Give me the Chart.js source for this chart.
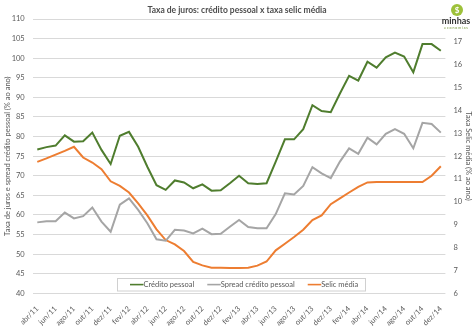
<!DOCTYPE html>
<html>
<head>
<meta charset="utf-8">
<script src="https://cdn.jsdelivr.net/npm/chart.js@4.4.0/dist/chart.umd.min.js"></script>
<style>
  body { margin: 0; background: #fff; }
  #wrap { width: 474px; height: 327px; }
</style>
</head>
<body>
<div id="wrap"><canvas id="chart" width="474" height="327"></canvas></div>
<script>
// meses de abr/11 a dez/14
const months = [
  'abr/11', 'mai/11', 'jun/11', 'jul/11', 'ago/11', 'set/11', 'out/11', 'nov/11', 'dez/11',
  'jan/12', 'fev/12', 'mar/12', 'abr/12', 'mai/12', 'jun/12', 'jul/12', 'ago/12', 'set/12', 'out/12', 'nov/12', 'dez/12',
  'jan/13', 'fev/13', 'mar/13', 'abr/13', 'mai/13', 'jun/13', 'jul/13', 'ago/13', 'set/13', 'out/13', 'nov/13', 'dez/13',
  'jan/14', 'fev/14', 'mar/14', 'abr/14', 'mai/14', 'jun/14', 'jul/14', 'ago/14', 'set/14', 'out/14', 'nov/14', 'dez/14'
];

// % ao ano (eixo esquerdo)
const creditoPessoal = [
  76.7, 77.3, 77.7, 80.3, 78.7, 78.8, 81.0, 76.6, 73.0,
  80.2, 81.2, 77.4, 72.3, 67.6, 66.4, 68.8, 68.3, 66.8, 67.8, 66.2, 66.3,
  68.1, 70.0, 68.1, 67.9, 68.1, 73.6, 79.3, 79.3, 81.9, 88.0, 86.5, 86.2,
  91.0, 95.5, 94.3, 99.1, 97.6, 100.2, 101.4, 100.4, 96.4, 103.6, 103.6, 101.9
];
const spreadCredito = [
  58.1, 58.4, 58.4, 60.6, 59.1, 59.7, 61.9, 58.3, 55.7,
  62.6, 64.2, 61.3, 57.9, 53.8, 53.4, 56.2, 56.0, 55.3, 56.5, 55.1, 55.2,
  57.0, 58.7, 56.9, 56.6, 56.6, 60.2, 65.5, 65.2, 67.4, 72.2, 70.6, 69.4,
  73.6, 77.0, 75.6, 79.7, 78.0, 80.7, 81.9, 80.7, 77.0, 83.5, 83.2, 81.0
];
// % ao ano (eixo direito)
const selicMedia = [
  11.75, 11.90, 12.07, 12.23, 12.41, 11.94, 11.72, 11.43, 10.90,
  10.70, 10.41, 9.93, 9.41, 8.80, 8.33, 8.14, 7.85, 7.37, 7.22, 7.12, 7.12,
  7.11, 7.11, 7.12, 7.21, 7.39, 7.88, 8.17, 8.46, 8.78, 9.20, 9.41, 9.90,
  10.15, 10.41, 10.66, 10.85, 10.87, 10.87, 10.87, 10.87, 10.87, 10.87, 11.14, 11.56
];

const FONT = 'Lato, "Liberation Sans", sans-serif';
Chart.defaults.font.family = FONT;
Chart.defaults.color = '#595959';

// legenda dentro da area do grafico + logo
const insideLegend = {
  id: 'insideLegend',
  afterDraw(chart) {
    const ctx = chart.ctx;
    const area = chart.chartArea;
    ctx.save();
    ctx.font = '7.5px ' + FONT;
    const sample = 13.5, gap = 13, padL = 13, padR = 7;
    const items = chart.data.datasets.map(ds => ({
      label: ds.label, color: ds.borderColor, w: sample + ctx.measureText(ds.label).width
    }));
    const total = items.reduce((s, it) => s + it.w, 0) + gap * (items.length - 1) + padL + padR;
    const bx = Math.round((area.left + area.right) / 2 - total / 2 + 2);
    const by = Math.round(area.bottom - 15.5);
    ctx.fillStyle = '#fff';
    ctx.fillRect(bx, by, total, 12.5);
    ctx.strokeStyle = '#d0d0d0';
    ctx.lineWidth = 1;
    ctx.strokeRect(bx + 0.5, by + 0.5, Math.round(total), 12.5);
    let x = bx + padL;
    const cy = by + 6.6;
    items.forEach(it => {
      ctx.strokeStyle = it.color;
      ctx.lineWidth = 1.6;
      ctx.beginPath();
      ctx.moveTo(x, cy);
      ctx.lineTo(x + sample, cy);
      ctx.stroke();
      ctx.fillStyle = '#595959';
      ctx.textBaseline = 'middle';
      ctx.textAlign = 'left';
      ctx.fillText(it.label, x + sample, cy);
      x += it.w + gap;
    });

    // logo minhas economias
    ctx.fillStyle = '#9dc13a';
    ctx.beginPath();
    ctx.arc(457, 10, 6, 0, Math.PI * 2);
    ctx.fill();
    ctx.fillStyle = '#fff';
    ctx.font = 'bold 8px ' + FONT;
    ctx.textAlign = 'center';
    ctx.textBaseline = 'middle';
    ctx.fillText('$', 457, 10.5);
    ctx.fillStyle = '#333';
    ctx.font = 'bold 9px ' + FONT;
    ctx.fillText('minhas', 456, 21.5);
    ctx.fillStyle = '#6b8f2c';
    ctx.font = '3.5px ' + FONT;
    ctx.fillText('e c o n o m i a s', 456, 27.5);
    ctx.restore();
  }
};

new Chart(document.getElementById('chart'), {
  type: 'line',
  data: {
    labels: months,
    datasets: [
      {
        label: 'Crédito pessoal',
        data: creditoPessoal,
        borderColor: '#4f7d2e',
        borderWidth: 2,
        pointRadius: 0,
        tension: 0,
        yAxisID: 'y'
      },
      {
        label: 'Spread crédito pessoal',
        data: spreadCredito,
        borderColor: '#a5a5a5',
        borderWidth: 2,
        pointRadius: 0,
        tension: 0,
        yAxisID: 'y'
      },
      {
        label: 'Selic média',
        data: selicMedia,
        borderColor: '#ed7d31',
        borderWidth: 2,
        pointRadius: 0,
        tension: 0,
        yAxisID: 'y1'
      }
    ]
  },
  options: {
    responsive: false,
    animation: false,
    devicePixelRatio: 1,
    layout: { padding: 0 },
    plugins: {
      legend: { display: false },
      tooltip: { enabled: false },
      title: {
        display: true,
        text: 'Taxa de juros: crédito pessoal x taxa selic média',
        color: '#4d4d4d',
        font: { size: 8.5, weight: 'bold' },
        padding: { top: 5.5, bottom: 3.3 }
      }
    },
    scales: {
      x: {
        offset: true,
        grid: { display: false },
        border: { display: false },
        afterFit: s => { s.height = 33.7; },
        ticks: {
          autoSkip: false,
          minRotation: 45,
          maxRotation: 45,
          padding: 3,
          font: { size: 7.5 },
          callback: function (v, i) { return i % 2 === 0 ? this.getLabelForValue(v) : ''; }
        }
      },
      y: {
        position: 'left',
        min: 40,
        max: 110,
        afterFit: s => { s.width = 32.7; },
        grid: { color: '#d9d9d9', drawTicks: false },
        border: { display: false },
        ticks: { stepSize: 5, padding: 8, font: { size: 7.5 } },
        title: {
          display: true,
          text: 'Taxa de juros e spread crédito pessoal (% ao ano)',
          font: { size: 7.5 },
          padding: { top: 3, bottom: 0 }
        }
      },
      y1: {
        position: 'right',
        min: 6,
        max: 18,
        afterFit: s => { s.width = 28.6; },
        grid: { display: false, drawTicks: false },
        border: { display: false },
        ticks: {
          stepSize: 1,
          padding: 8,
          font: { size: 7.5 },
          callback: v => (v === 18 ? '' : v)
        },
        title: {
          display: true,
          text: 'Taxa Selic média (% ao ano)',
          font: { size: 7.5 },
          padding: { top: 1.5, bottom: 0 }
        }
      }
    }
  },
  plugins: [insideLegend]
});
</script>
</body>
</html>
